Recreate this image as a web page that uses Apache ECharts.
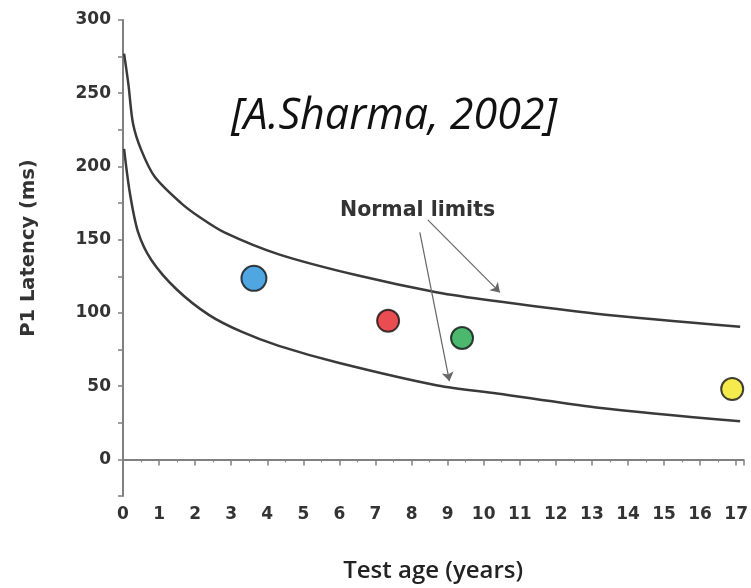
<!DOCTYPE html>
<html>
<head>
<meta charset="utf-8">
<script src="https://cdn.jsdelivr.net/npm/echarts@6/dist/echarts.min.js"></script>
<style>html,body{margin:0;padding:0;background:#fff}#c{width:751px;height:588px}</style>
</head>
<body>
<div id="c"></div>
<script>
// Upper normal limit curve [age, latency]
const upperAge = [0.03, 0.15, 0.28, 0.51, 0.88, 1.61, 2.12, 2.81, 4.32, 6.52, 8.72, 10.37, 13.12, 17.11];
const upperLat = [277, 256, 229, 211, 193, 175, 165.5, 155, 140, 125.5, 114, 108, 99.5, 90.5];
// Lower normal limit curve
const lowerAge = [0.03, 0.19, 0.42, 0.79, 1.49, 2.39, 3.30, 4.32, 5.97, 8.72, 10.37, 13.12, 17.11];
const lowerLat = [212, 182, 155, 136, 116, 98.5, 87, 77.5, 66, 50.5, 45, 35.5, 26];
// Individual patients
const ptAge = [3.63, 7.35, 9.40, 16.89];
const ptLat = [123.6, 94.6, 82.9, 48];
const ptColor = ['#2390d8', '#e41f26', '#1fa64a', '#f2e620'];
const ptSize = [25, 22, 22, 22];
// Annotation arrows [startAge, startLat, endAge, endLat]
const arrows = [[8.45, 163.5, 10.45, 114], [8.23, 155, 9.05, 53.4]];
const xTicks = [0, 17.2, 1];
const yTicks = [-25, 300, 25];

const zip = (a, b) => a.map((v, i) => [v, b[i]]);
const lab = {fontFamily: 'DejaVu Sans', fontWeight: 'bold', fontSize: 17, color: '#333'};

const chart = echarts.init(document.getElementById('c'));
chart.setOption({
  animation: false,
  backgroundColor: '#fff',
  title: {
    text: '[A.Sharma, 2002]',
    left: 226, top: 90,
    textStyle: {fontFamily: 'Open Sans', fontStyle: 'italic', fontWeight: 'normal', fontSize: 43, color: '#111'}
  },
  graphic: [{
    type: 'text', left: 340, top: 200,
    style: {text: 'Normal limits', font: 'bold 20.5px "DejaVu Sans"', fill: '#333'}
  }],
  grid: {left: 123, right: 3, top: 20, bottom: 87},
  xAxis: {
    type: 'value', min: xTicks[0], max: xTicks[1], interval: xTicks[2],
    name: 'Test age (years)', nameLocation: 'middle', nameGap: 63,
    nameTextStyle: {fontFamily: 'Open Sans', fontWeight: 600, fontSize: 24, color: '#222'},
    axisLine: {lineStyle: {color: '#808080', width: 2}},
    axisTick: {length: 6, lineStyle: {color: '#808080', width: 1.5}},
    minorTick: {show: true, splitNumber: 2, length: 3, lineStyle: {color: '#808080'}},
    splitLine: {show: false},
    axisLabel: Object.assign({margin: 10, formatter: v => Number.isInteger(v) ? String(v) : ''}, lab)
  },
  yAxis: {
    type: 'value', min: yTicks[0], max: yTicks[1], interval: yTicks[2],
    name: 'P1 Latency (ms)', nameLocation: 'middle', nameGap: 84, nameRotate: 90,
    nameTextStyle: {fontFamily: 'DejaVu Sans', fontWeight: 'bold', fontSize: 19.5, color: '#333', padding: [0, 0, 0, 20]},
    axisLine: {show: true, lineStyle: {color: '#808080', width: 2}},
    axisTick: {show: true, length: 5, lineStyle: {color: '#808080', width: 1.5}},
    splitLine: {show: false},
    axisLabel: Object.assign({margin: 12, formatter: v => (v >= 0 && v % 50 === 0) ? String(v) : ''}, lab)
  },
  series: [
    {type: 'line', data: zip(upperAge, upperLat), smooth: 0.3, symbol: 'none',
     lineStyle: {color: '#3a3a3a', width: 2.5}},
    {type: 'line', data: zip(lowerAge, lowerLat), smooth: 0.3, symbol: 'none',
     lineStyle: {color: '#3a3a3a', width: 2.5}},
    {type: 'scatter',
     data: ptAge.map((a, i) => ({value: [a, ptLat[i]], symbolSize: ptSize[i],
       itemStyle: {color: ptColor[i], borderColor: '#111', borderWidth: 2}}))},
    {type: 'line', data: [], silent: true,
     markLine: {silent: true, symbol: ['none', 'arrow'], symbolSize: 9,
       lineStyle: {color: '#666', width: 1.2, type: 'solid'}, label: {show: false},
       data: arrows.map(a => [{coord: [a[0], a[1]]}, {coord: [a[2], a[3]]}])}}
  ]
});
</script>
</body>
</html>
